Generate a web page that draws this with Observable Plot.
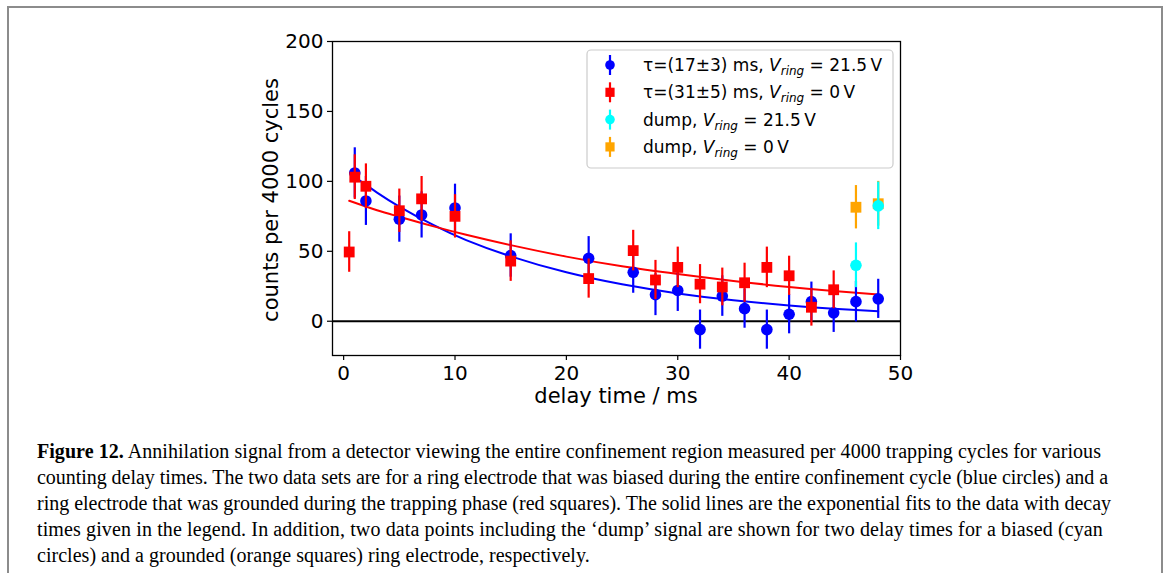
<!DOCTYPE html>
<html>
<head>
<meta charset="utf-8">
<script src="https://cdn.jsdelivr.net/npm/d3@7"></script>
<script src="https://cdn.jsdelivr.net/npm/@observablehq/plot@0.6"></script>
<style>
  html, body { margin: 0; padding: 0; background: white; }
  #wrap { position: relative; width: 1171px; height: 573px; overflow: hidden; background: white; }
  #chart { position: absolute; left: 0; top: 0; }
  #border { position: absolute; left: 7px; top: 6px; width: 1152px; height: 620px;
            border: 2px solid #8c8c8c; border-bottom: none; pointer-events: none; z-index: 5; }
  #caption { position: absolute; left: 37px; top: 438px; font-family: "Liberation Serif", serif;
             font-size: 20px; line-height: 26px; color: #000; }
  #caption .ln { white-space: nowrap; }
</style>
</head>
<body>
<div id="wrap">
  <div id="chart"></div>
  <div id="caption"></div>
  <div id="border"></div>
</div>
<script>
// ---- data ----
const xTicks = [0, 10, 20, 30, 40, 50];
const yTicks = [0, 50, 100, 150, 200];

const blueX   = [1, 2, 5, 7, 10, 15, 22, 26, 28, 30, 32, 34, 36, 38, 40, 42, 44, 46, 48];
const blueY   = [106, 86, 73, 76, 81, 47, 45, 35, 19, 22, -6, 18, 9, -6, 5, 14, 6, 14, 16];
const blueErr = [18, 17.5, 16.5, 16.5, 17, 15.5, 15.5, 15, 15, 15, 14, 14.5, 14, 14, 14, 14, 14, 14.5, 14];

const redX   = [0.5, 1, 2, 5, 7, 10, 15, 22, 26, 28, 30, 32, 34, 36, 38, 40, 42, 44];
const redY   = [49.5, 103, 96.5, 79, 87.5, 75, 43, 30.5, 50.5, 29.5, 38.5, 26.5, 24.5, 27.5, 38.5, 32.5, 10, 22.5];
const redErr = [14.5, 16, 16, 15.5, 16, 15.5, 14.5, 14, 14.5, 14, 14.5, 14, 13.5, 14, 14.5, 14, 13.5, 13.5];

const orangeX   = [46, 48];
const orangeY   = [81.5, 84];
const orangeErr = [15.5, 16];

const cyanX   = [46, 48];
const cyanY   = [40, 82.5];
const cyanErr = [16, 17];

// exponential fit curves
const blueFitX = [1, 3, 5, 8, 11, 15, 20, 25, 30, 35, 40, 44, 48];
const blueFitY = [103, 92, 82, 69, 58, 46.4, 35, 26.4, 19.9, 15, 11.3, 9, 7.1];
const redFitX  = [0.5, 3, 5, 8, 11, 15, 20, 25, 30, 35, 40, 44, 48];
const redFitY  = [86.1, 79.3, 74.7, 68, 61.8, 54.4, 46.2, 39.3, 33.8, 28.8, 24.5, 21.6, 19.1];

const legendPrefix  = ["τ=(17±3) ms, ", "τ=(31±5) ms, ", "dump, ", "dump, "];
const legendVoltage = ["21.5", "0", "21.5", "0"];
const legendColors  = ["#0000ff", "#ff0000", "#00ffff", "#ffa500"];
const legendSymbols = ["circle", "square", "circle", "square"];

const xLabel = "delay time / ms";
const yLabel = "counts per 4000 cycles";

const captionLines = [
  ["Figure 12.", " Annihilation signal from a detector viewing the entire confinement region measured per 4000 trapping cycles for various"],
  ["", "counting delay times. The two data sets are for a ring electrode that was biased during the entire confinement cycle (blue circles) and a"],
  ["", "ring electrode that was grounded during the trapping phase (red squares). The solid lines are the exponential fits to the data with decay"],
  ["", "times given in the legend. In addition, two data points including the \u2018dump\u2019 signal are shown for two delay times for a biased (cyan"],
  ["", "circles) and a grounded (orange squares) ring electrode, respectively."]
];
const captionRight = [1101, 1108, 1111, 1103, null];

// ---- build tables ----
const tbl = (xs, ys, es) => xs.map((x, i) => ({x, y: ys[i], e: es[i]}));
const blue = tbl(blueX, blueY, blueErr);
const red = tbl(redX, redY, redErr);
const orange = tbl(orangeX, orangeY, orangeErr);
const cyan = tbl(cyanX, cyanY, cyanErr);
const blueFit = blueFitX.map((x, i) => ({x, y: blueFitY[i]}));
const redFit = redFitX.map((x, i) => ({x, y: redFitY[i]}));

const bars = (data, color) => Plot.ruleX(data, {x: "x", y1: d => d.y - d.e, y2: d => d.y + d.e, stroke: color, strokeWidth: 2.2});
const pts = (data, color, symbol, r) => Plot.dot(data, {x: "x", y: "y", fill: color, stroke: "none", symbol, r});

const W = 1171, H = 420;
const plot = Plot.plot({
  width: W, height: H,
  marginLeft: 332, marginRight: 271, marginTop: 41, marginBottom: H - 355,
  style: {fontFamily: "DejaVu Sans", color: "black", background: "transparent", overflow: "visible"},
  x: {domain: [-1, 50]},
  y: {domain: [-24.5, 200]},
  marks: [
    Plot.ruleY([0], {stroke: "black", strokeWidth: 2}),
    Plot.line(blueFit, {x: "x", y: "y", stroke: "#0000ff", strokeWidth: 2, curve: "natural"}),
    Plot.line(redFit, {x: "x", y: "y", stroke: "#ff0000", strokeWidth: 2, curve: "natural"}),
    bars(blue, "#0000ff"), pts(blue, "#0000ff", "circle", 5.8),
    bars(red, "#ff0000"), pts(red, "#ff0000", "square", 6.1),
    bars(orange, "#ffa500"), pts(orange, "#ffa500", "square", 6.1),
    bars(cyan, "#00ffff"), pts(cyan, "#00ffff", "circle", 5.8),
    Plot.axisX({ticks: xTicks, tickSize: 5, tickPadding: 5, fontSize: 20, label: null, stroke: "black", strokeWidth: 1.2}),
    Plot.axisY({ticks: yTicks, tickSize: 5, tickPadding: 4, fontSize: 20, label: null, stroke: "black", strokeWidth: 1.2}),
    Plot.frame({stroke: "black", strokeWidth: 1.3})
  ]
});
document.getElementById("chart").appendChild(plot);

// axis labels and legend
const svg = d3.select(plot);
svg.append("text").attr("x", 616).attr("y", 403).attr("text-anchor", "middle")
  .attr("font-family", "DejaVu Sans").attr("font-size", 21).attr("fill", "black").text(xLabel);
svg.append("text").attr("transform", "translate(278,200) rotate(-90)").attr("text-anchor", "middle")
  .attr("font-family", "DejaVu Sans").attr("font-size", 21).attr("fill", "black").text(yLabel);

const lg = svg.append("g").attr("font-family", "DejaVu Sans").attr("font-size", 17).attr("text-anchor", "start");
lg.append("rect").attr("x", 587).attr("y", 50).attr("width", 306).attr("height", 118).attr("rx", 4)
  .attr("fill", "white").attr("fill-opacity", 0.85).attr("stroke", "#cccccc").attr("stroke-width", 1.2);
legendPrefix.forEach((p, i) => {
  const cy = 65 + i * 27.3;
  const c = legendColors[i];
  lg.append("line").attr("x1", 610).attr("x2", 610).attr("y1", cy - 10).attr("y2", cy + 10)
    .attr("stroke", c).attr("stroke-width", 2.2);
  if (legendSymbols[i] === "circle") {
    lg.append("circle").attr("cx", 610).attr("cy", cy).attr("r", 4.8).attr("fill", c);
  } else {
    lg.append("rect").attr("x", 610 - 4.6).attr("y", cy - 4.6).attr("width", 9.2).attr("height", 9.2).attr("fill", c);
  }
  const t = lg.append("text").attr("x", 643).attr("y", cy + 6).attr("fill", "black").attr("text-anchor", "start");
  t.append("tspan").text(p);
  t.append("tspan").attr("font-style", "italic").text("V");
  t.append("tspan").attr("font-style", "italic").attr("font-size", 12).attr("dy", 4).text("ring");
  t.append("tspan").attr("dy", -4).text(" = " + legendVoltage[i] + "\u2009V");
});

// caption
const cap = document.getElementById("caption");
const spacings = [];
captionLines.forEach(([b, rest], i) => {
  const div = document.createElement("div");
  div.className = "ln";
  if (b) { const s = document.createElement("b"); s.textContent = b; div.appendChild(s); }
  div.appendChild(document.createTextNode(rest));
  const span = document.createElement("span");
  span.style.display = "inline-block";
  span.appendChild(div);
  cap.appendChild(span);
  cap.appendChild(document.createElement("br"));
});
const spans = cap.querySelectorAll("span");
spans.forEach((sp, i) => {
  const n = (captionLines[i][0] + captionLines[i][1]).length;
  if (captionRight[i] != null) {
    const w = sp.getBoundingClientRect().width;
    const ls = (captionRight[i] - 37 - w) / n;
    spacings.push(ls);
    sp.style.letterSpacing = ls + "px";
  }
});
const avg = spacings.reduce((a, b) => a + b, 0) / spacings.length;
spans[spans.length - 1].style.letterSpacing = avg + "px";
</script>
</body>
</html>
